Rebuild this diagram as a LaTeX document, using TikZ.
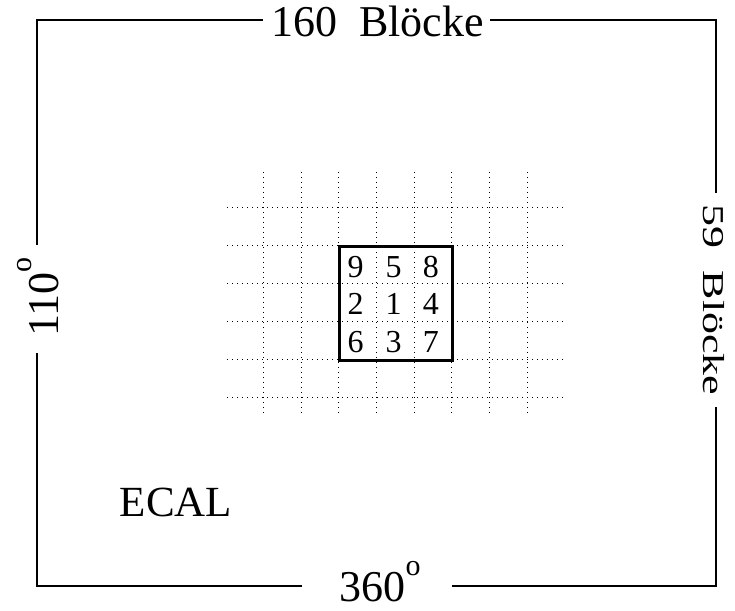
\documentclass[tikz,border=0pt]{standalone}
\usepackage{fontspec}
\setmainfont{Liberation Serif}
\newcommand{\supo}{\raisebox{0.6em}{\fontsize{30}{30}\selectfont o}}
\begin{document}
\begin{tikzpicture}[x=1pt,y=-1pt,
  frame/.style={line width=2pt, line join=miter},
  gridline/.style={line width=1pt, dash pattern=on 1pt off 4pt},
  cellbox/.style={line width=3pt, line join=miter},
  big/.style={font=\fontsize{44}{44}\selectfont, inner sep=0pt, anchor=base},
  num/.style={font=\fontsize{32}{32}\selectfont, inner sep=0pt, anchor=base},
]
\useasboundingbox (0,0) rectangle (735,610);
% dotted grid
\foreach \i in {0,...,7} \draw[gridline] ({263.3+37.7*\i},172) -- ({263.3+37.7*\i},414);
\foreach \j in {0,...,5} \draw[gridline] (227,{207.7+37.9*\j}) -- (563,{207.7+37.9*\j});
% 3x3 block
\draw[cellbox] (339,246) rectangle (452.3,360);
\node[num] (n9) at (355.5,277) {9};
\node[num] (n5) at (393.5,277) {5};
\node[num] (n8) at (430.8,277) {8};
\node[num] (n2) at (355.5,314) {2};
\node[num] (n1) at (393.5,314) {1};
\node[num] (n4) at (430.8,314) {4};
\node[num] (n6) at (355.5,352) {6};
\node[num] (n3) at (393.5,352) {3};
\node[num] (n7) at (430.8,352) {7};
% frame corners and gap ends
\coordinate (TL) at (37,20);
\coordinate (TR) at (716,20);
\coordinate (BR) at (716,586);
\coordinate (BL) at (37,586);
\coordinate (t1) at (263,20);
\coordinate (t2) at (490,20);
\coordinate (r1) at (716,193);
\coordinate (r2) at (716,407);
\coordinate (b1) at (452,586);
\coordinate (b2) at (302,586);
\coordinate (l1) at (37,353);
\coordinate (l2) at (37,245);
\draw[frame] (t2) -- (TR) -- (r1);
\draw[frame] (r2) -- (BR) -- (b1);
\draw[frame] (b2) -- (BL) -- (l1);
\draw[frame] (l2) -- (TL) -- (t1);
% labels
\node[big] (top) at (377.5,36.7) {160\ \ Blöcke};
\node[big, rotate=-90] (right) at (703,300) {\scalebox{1}[0.69]{59\ \ Blöcke}};
\node[big, rotate=90] (left) at (58.3,297) {110\supo};
\node[big] (bottom) at (380,601.7) {360\supo};
\node[big, font=\fontsize{43}{43}\selectfont] (ecal) at (176,516.7) {ECAL};
\end{tikzpicture}
\end{document}
